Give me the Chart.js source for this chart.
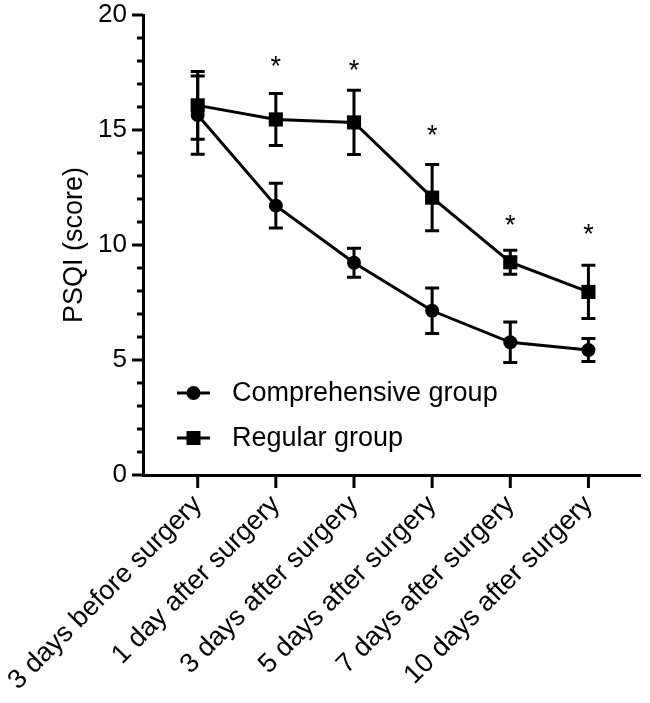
<!DOCTYPE html>
<html>
<head>
<meta charset="utf-8">
<script src="https://cdn.jsdelivr.net/npm/chart.js@4"></script>
<style>
  html, body { margin: 0; padding: 0; background: #fff; }
  #wrap { width: 650px; height: 703px; }
</style>
</head>
<body>
<div id="wrap"><canvas id="lineChart" width="650" height="703"></canvas></div>
<script>
const categorias = [
    "3 days before surgery",
    "1 day after surgery",
    "3 days after surgery",
    "5 days after surgery",
    "7 days after surgery",
    "10 days after surgery"
];

const mediaIntegral = [15.65, 11.71, 9.23, 7.14, 5.77, 5.43];
const deIntegral = [1.70, 0.97, 0.63, 0.99, 0.88, 0.50];

const mediaRegular = [16.07, 15.46, 15.33, 12.06, 9.25, 7.96];
const deRegular = [1.47, 1.13, 1.40, 1.44, 0.52, 1.16];

// altura (en puntos PSQI) de cada asterisco; null = sin diferencia
const asteriscos = [null, 18.05, 17.85, 15.05, 11.15, 10.75];

const ticksY = [0, 5, 10, 15, 20];

const fuente = "'Liberation Sans', Arial, sans-serif";

function puntos(valores){
    return valores.map(function(v, i){ return { x: i, y: v }; });
}

// barras de error, asteriscos, marcas de ejes y leyenda
const extras = {
    id: "extras",

    beforeDatasetsDraw(chart){
        const ctx = chart.ctx;
        const x = chart.scales.x;
        const y = chart.scales.y;
        const grupos = [[mediaIntegral, deIntegral], [mediaRegular, deRegular]];

        ctx.save();
        ctx.strokeStyle = "#000";
        ctx.lineWidth = 3;
        grupos.forEach(function(g){
            g[0].forEach(function(m, i){
                const px = x.getPixelForValue(i);
                const arriba = y.getPixelForValue(m + g[1][i]);
                const abajo = y.getPixelForValue(m - g[1][i]);
                ctx.beginPath();
                ctx.moveTo(px, arriba);
                ctx.lineTo(px, abajo);
                ctx.moveTo(px - 7, arriba);
                ctx.lineTo(px + 7, arriba);
                ctx.moveTo(px - 7, abajo);
                ctx.lineTo(px + 7, abajo);
                ctx.stroke();
            });
        });
        ctx.restore();
    },

    afterDraw(chart){
        const ctx = chart.ctx;
        const x = chart.scales.x;
        const y = chart.scales.y;
        const area = chart.chartArea;

        ctx.save();
        ctx.strokeStyle = "#000";
        ctx.fillStyle = "#000";
        ctx.lineWidth = 3;

        // marcas del eje y (mayores y menores)
        for(let v = 0; v <= 20; v++){
            const py = y.getPixelForValue(v);
            const largo = v % 5 === 0 ? 11 : 6;
            ctx.beginPath();
            ctx.moveTo(area.left - largo, py);
            ctx.lineTo(area.left, py);
            ctx.stroke();
        }

        // marcas del eje x
        categorias.forEach(function(c, i){
            const px = x.getPixelForValue(i);
            ctx.beginPath();
            ctx.moveTo(px, area.bottom);
            ctx.lineTo(px, area.bottom + 13);
            ctx.stroke();
        });

        // asteriscos
        ctx.font = "27px " + fuente;
        ctx.textAlign = "center";
        ctx.textBaseline = "alphabetic";
        asteriscos.forEach(function(a, i){
            if(a === null) return;
            const px = x.getPixelForValue(i);
            const py = y.getPixelForValue(a);
            ctx.fillText("*", px, py + 15);
        });

        // leyenda
        const filas = [
            { texto: chart.data.datasets[0].label, estilo: "circle", yy: 393 },
            { texto: chart.data.datasets[1].label, estilo: "rect", yy: 438 }
        ];
        ctx.font = "27px " + fuente;
        ctx.textAlign = "left";
        ctx.textBaseline = "middle";
        filas.forEach(function(f){
            ctx.beginPath();
            ctx.moveTo(177, f.yy);
            ctx.lineTo(210, f.yy);
            ctx.stroke();
            if(f.estilo === "circle"){
                ctx.beginPath();
                ctx.arc(193.5, f.yy, 7, 0, Math.PI * 2);
                ctx.fill();
            } else {
                ctx.fillRect(186.5, f.yy - 7, 14, 14);
            }
            ctx.fillText(f.texto, 232, f.yy + 1);
        });

        ctx.restore();
    }
};

const ctx = document.getElementById("lineChart");

new Chart(ctx, {

    type: "line",

    data: {
        datasets: [
            {
                label: "Comprehensive group",
                data: puntos(mediaIntegral),
                borderColor: "#000",
                backgroundColor: "#000",
                borderWidth: 3,
                pointStyle: "circle",
                pointRadius: 7,
                pointBorderWidth: 0,
                tension: 0
            },
            {
                label: "Regular group",
                data: puntos(mediaRegular),
                borderColor: "#000",
                backgroundColor: "#000",
                borderWidth: 3,
                pointStyle: "rect",
                pointRadius: 10,
                pointBorderWidth: 0,
                tension: 0
            }
        ]
    },

    options: {
        responsive: false,
        animation: false,
        devicePixelRatio: 1,

        layout: {
            padding: { top: 15, right: 0, left: 0, bottom: 0 }
        },

        scales: {
            x: {
                type: "linear",
                min: -0.7,
                max: 5.66,
                grid: { display: false },
                border: { display: true, color: "#000", width: 3 },
                afterBuildTicks: function(scale){
                    scale.ticks = categorias.map(function(c, i){ return { value: i }; });
                },
                afterFit: function(scale){
                    scale.height = 228;
                    scale.paddingLeft = 0;
                    scale.paddingRight = 0;
                },
                ticks: {
                    autoSkip: false,
                    maxRotation: 45,
                    minRotation: 45,
                    padding: 6,
                    color: "#000",
                    font: { family: fuente, size: 27 },
                    callback: function(value){
                        return categorias[value];
                    }
                }
            },
            y: {
                min: 0,
                max: 20,
                grid: { display: false },
                border: { display: true, color: "#000", width: 3 },
                afterBuildTicks: function(scale){
                    scale.ticks = ticksY.map(function(v){ return { value: v }; });
                },
                afterFit: function(scale){
                    scale.width = 143;
                    scale.paddingTop = 0;
                    scale.paddingBottom = 0;
                },
                title: {
                    display: true,
                    text: "PSQI (score)",
                    color: "#000",
                    font: { family: fuente, size: 27 },
                    padding: { top: 58, bottom: 0 }
                },
                ticks: {
                    padding: 8,
                    color: "#000",
                    font: { family: fuente, size: 26 }
                }
            }
        },

        plugins: {
            legend: { display: false },
            tooltip: { enabled: false }
        }
    },

    plugins: [extras]

});
</script>
</body>
</html>
